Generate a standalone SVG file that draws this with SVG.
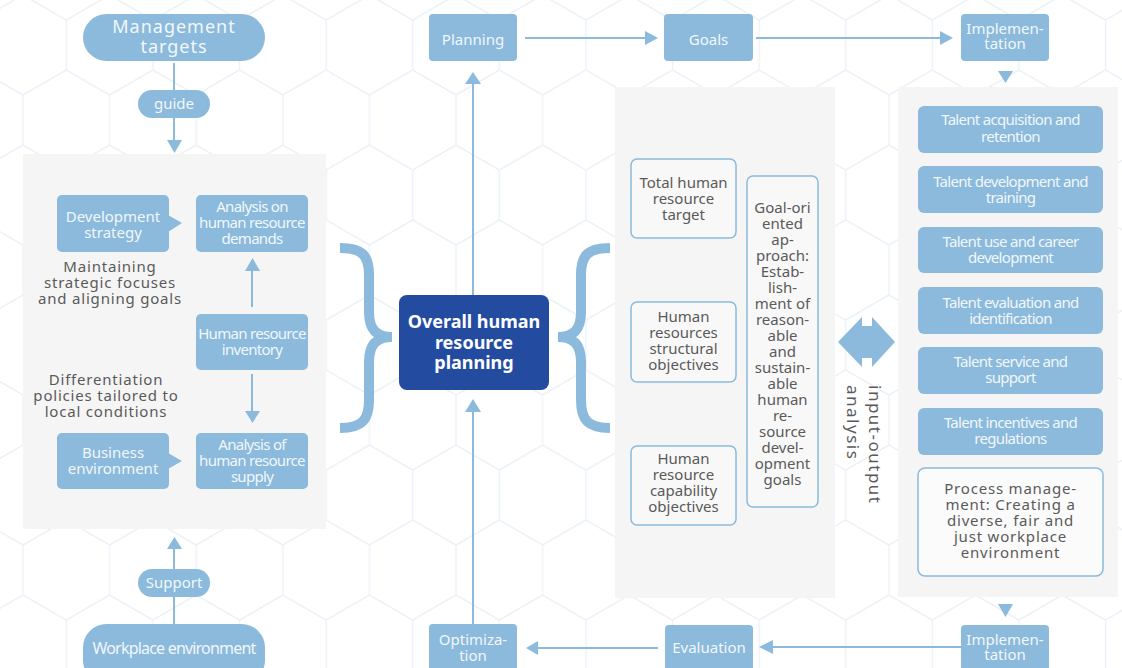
<svg xmlns="http://www.w3.org/2000/svg" width="1122" height="668" viewBox="0 0 1122 668">
<defs>
<pattern id="hex" patternUnits="userSpaceOnUse" x="109.6" y="45" width="86.6" height="150">
<g fill="none" stroke="#ebf1f7" stroke-width="1.2">
<path id="hx" d="M0,-50 L43.3,-25 L43.3,25 L0,50 L-43.3,25 L-43.3,-25 Z"/>
<use href="#hx" x="86.6" y="0"/>
<use href="#hx" x="43.3" y="75"/>
<use href="#hx" x="0" y="150"/>
<use href="#hx" x="86.6" y="150"/>
<use href="#hx" x="43.3" y="-75"/>
<use href="#hx" x="43.3" y="225"/>
</g>
</pattern>
<style>
.box{fill:#8bbadc}
.panel{fill:#f5f5f5}
.obox{fill:#f8f8f8;stroke:#8bbadc;stroke-width:1.5}
.wt{font-family:"Noto Sans","Open Sans",sans-serif;font-size:15px;fill:#f2f7fb;text-anchor:middle}
.cond{letter-spacing:-0.7px}
.gt{font-family:"Noto Sans","Open Sans",sans-serif;font-size:15px;fill:#5a5a5a;text-anchor:middle}
.ln{stroke:#8bbadc;stroke-width:2;fill:none}
.ah{fill:#8bbadc}
.brace{stroke:#8bbadc;stroke-width:10;fill:none}
</style>
</defs>
<rect width="1122" height="668" fill="#ffffff"/>
<rect width="1122" height="668" fill="url(#hex)"/>

<!-- panels -->
<rect class="panel" x="23" y="154" width="303" height="375"/>
<rect class="panel" x="615" y="87" width="220" height="511"/>
<rect class="panel" x="898" y="87" width="220" height="510"/>

<!-- connectors -->
<g id="connectors">
<line class="ln" x1="174" y1="63" x2="174" y2="142"/>
<polygon class="ah" points="167,140 182,140 174.5,153"/>
<line class="ln" x1="174" y1="624" x2="174" y2="547"/>
<polygon class="ah" points="167,549 182,549 174.5,537"/>
<line class="ln" x1="252" y1="307" x2="252" y2="270"/>
<polygon class="ah" points="245,271 260,271 252.5,258"/>
<line class="ln" x1="252" y1="374" x2="252" y2="412"/>
<polygon class="ah" points="245,411 260,411 252.5,423"/>
<line class="ln" x1="473" y1="295" x2="473" y2="83"/>
<polygon class="ah" points="465,84 481,84 473,72"/>
<line class="ln" x1="473" y1="624" x2="473" y2="411"/>
<polygon class="ah" points="465,412 481,412 473,399"/>
<line class="ln" x1="525" y1="38" x2="646" y2="38"/>
<polygon class="ah" points="645,31 645,45 658,38"/>
<line class="ln" x1="756" y1="38" x2="941" y2="38"/>
<polygon class="ah" points="940,31 940,45 953,38"/>
<polygon class="ah" points="998,71 1013,71 1005.5,83"/>
<polygon class="ah" points="998,604 1013,604 1005.5,617"/>
<line class="ln" x1="961" y1="647" x2="772" y2="647"/>
<polygon class="ah" points="773,640 773,654 759,647"/>
<line class="ln" x1="658" y1="648" x2="537" y2="648"/>
<polygon class="ah" points="538,641 538,655 526,648"/>
<path class="brace" d="M340,248 C362,248 369,255 369,275 L369,312 C369,330 377,337 392,337 C377,337 369,344 369,362 L369,400 C369,420 362,428 340,428"/>
<path class="brace" d="M610,248 C588,248 581,255 581,275 L581,312 C581,330 573,337 558,337 C573,337 581,344 581,362 L581,400 C581,420 588,428 610,428"/>
<polygon class="ah" points="838,342 862,317 862,326 872,326 872,317 895,342 872,367 872,358 862,358 862,367"/>
</g>

<g id="n-management"><rect class="box" x="83" y="14" width="182" height="47" rx="23.5"/>
<text class="wt" x="174" y="33" style="font-size:18px;letter-spacing:1px">Management</text>
<text class="wt" x="174" y="53" style="font-size:18px;letter-spacing:1px">targets</text></g>
<g id="n-guide"><rect class="box" x="138" y="90" width="72" height="28" rx="14"/>
<text class="wt" x="174" y="109">guide</text></g>
<g id="n-support"><rect class="box" x="138" y="569" width="72" height="28" rx="14"/>
<text class="wt" x="174" y="588">Support</text></g>
<g id="n-workplace"><rect class="box" x="83" y="624" width="182" height="60" rx="23.5"/>
<text class="wt" x="174" y="654" style="font-size:16px;letter-spacing:-0.8px">Workplace environment</text></g>

<g id="n-devstrategy"><rect class="box" x="57" y="195" width="112" height="57" rx="5"/>
<polygon class="box" points="168,215 182,223 168,232"/>
<text class="wt" x="113" y="222">Development</text>
<text class="wt" x="113" y="238">strategy</text></g>
<g id="n-demands"><rect class="box" x="196" y="195" width="112" height="57" rx="5"/>
<text class="wt cond" x="252" y="212">Analysis on</text>
<text class="wt cond" x="252" y="228">human resource</text>
<text class="wt cond" x="252" y="244">demands</text></g>
<g id="n-inventory"><rect class="box" x="196" y="314" width="112" height="56" rx="5"/>
<text class="wt cond" x="252" y="339">Human resource</text>
<text class="wt cond" x="252" y="355">inventory</text></g>
<g id="n-supply"><rect class="box" x="196" y="433" width="112" height="56" rx="5"/>
<text class="wt cond" x="252" y="450">Analysis of</text>
<text class="wt cond" x="252" y="466">human resource</text>
<text class="wt cond" x="252" y="482">supply</text></g>
<g id="n-business"><rect class="box" x="57" y="433" width="112" height="56" rx="5"/>
<polygon class="box" points="168,453 182,461 168,469"/>
<text class="wt" x="113" y="458">Business</text>
<text class="wt" x="113" y="474">environment</text></g>
<g id="t-maintaining">
<text class="gt" x="110" y="272" style="letter-spacing:0.8px">Maintaining</text>
<text class="gt" x="110" y="288" style="letter-spacing:0.8px">strategic focuses</text>
<text class="gt" x="110" y="304" style="letter-spacing:0.8px">and aligning goals</text></g>
<g id="t-differentiation">
<text class="gt" x="106" y="385" style="letter-spacing:0.8px">Differentiation</text>
<text class="gt" x="106" y="401" style="letter-spacing:0.8px">policies tailored to</text>
<text class="gt" x="106" y="417" style="letter-spacing:0.8px">local conditions</text></g>

<g id="n-central"><rect x="399" y="295" width="150" height="95" rx="8" fill="#234ca1"/>
<text class="wt" x="474" y="328" style="font-size:18px;font-weight:bold;fill:#ffffff">Overall human</text>
<text class="wt" x="474" y="349" style="font-size:18px;font-weight:bold;fill:#ffffff">resource</text>
<text class="wt" x="474" y="369" style="font-size:18px;font-weight:bold;fill:#ffffff">planning</text></g>

<g id="n-planning"><rect class="box" x="429" y="14" width="88" height="47" rx="4"/>
<text class="wt" x="473" y="45">Planning</text></g>
<g id="n-goals"><rect class="box" x="664" y="14" width="89" height="47" rx="4"/>
<text class="wt" x="708.5" y="45">Goals</text></g>
<g id="n-impl-top"><rect class="box" x="961" y="14" width="88" height="47" rx="4"/>
<text class="wt" x="1005" y="34">Implemen-</text>
<text class="wt" x="1005" y="49">tation</text></g>
<g id="n-impl-bottom"><rect class="box" x="961" y="625" width="88" height="60" rx="4"/>
<text class="wt" x="1005" y="645">Implemen-</text>
<text class="wt" x="1005" y="660">tation</text></g>
<g id="n-evaluation"><rect class="box" x="665" y="625" width="88" height="60" rx="4"/>
<text class="wt" x="709" y="653">Evaluation</text></g>
<g id="n-optimization"><rect class="box" x="429" y="624" width="88" height="60" rx="4"/>
<text class="wt" x="473" y="645">Optimiza-</text>
<text class="wt" x="473" y="661">tion</text></g>

<g id="n-total"><rect class="obox" x="631" y="159" width="105" height="79" rx="6"/>
<text class="gt" x="683.5" y="188">Total human</text>
<text class="gt" x="683.5" y="204">resource</text>
<text class="gt" x="683.5" y="220">target</text></g>
<g id="n-structural"><rect class="obox" x="631" y="302" width="105" height="80" rx="6"/>
<text class="gt" x="683.5" y="322">Human</text>
<text class="gt" x="683.5" y="338">resources</text>
<text class="gt" x="683.5" y="354">structural</text>
<text class="gt" x="683.5" y="370">objectives</text></g>
<g id="n-capability"><rect class="obox" x="631" y="446" width="105" height="79" rx="6"/>
<text class="gt" x="683.5" y="464">Human</text>
<text class="gt" x="683.5" y="480">resource</text>
<text class="gt" x="683.5" y="496">capability</text>
<text class="gt" x="683.5" y="512">objectives</text></g>
<g id="n-goaloriented"><rect class="obox" x="747" y="176" width="71" height="331" rx="6"/>
<text class="gt" x="782.5" y="213">Goal-ori</text>
<text class="gt" x="782.5" y="229">ented</text>
<text class="gt" x="782.5" y="245">ap-</text>
<text class="gt" x="782.5" y="261">proach:</text>
<text class="gt" x="782.5" y="277">Estab-</text>
<text class="gt" x="782.5" y="293">lish-</text>
<text class="gt" x="782.5" y="309">ment of</text>
<text class="gt" x="782.5" y="325">reason-</text>
<text class="gt" x="782.5" y="341">able</text>
<text class="gt" x="782.5" y="357">and</text>
<text class="gt" x="782.5" y="373">sustain-</text>
<text class="gt" x="782.5" y="389">able</text>
<text class="gt" x="782.5" y="405">human</text>
<text class="gt" x="782.5" y="421">re-</text>
<text class="gt" x="782.5" y="437">source</text>
<text class="gt" x="782.5" y="453">devel-</text>
<text class="gt" x="782.5" y="469">opment</text>
<text class="gt" x="782.5" y="485">goals</text></g>
<g id="t-inputoutput">
<text class="gt" transform="translate(869,385) rotate(90)" style="text-anchor:start;font-size:17px;letter-spacing:1.5px">input-output</text>
<text class="gt" transform="translate(847,385) rotate(90)" style="text-anchor:start;font-size:17px;letter-spacing:1.5px">analysis</text></g>

<g id="n-t1"><rect class="box" x="918" y="106" width="185" height="47" rx="6"/>
<text class="wt cond" x="1010.5" y="125">Talent acquisition and</text>
<text class="wt cond" x="1010.5" y="142">retention</text></g>
<g id="n-t2"><rect class="box" x="918" y="166" width="185" height="47" rx="6"/>
<text class="wt cond" x="1010.5" y="187">Talent development and</text>
<text class="wt cond" x="1010.5" y="203">training</text></g>
<g id="n-t3"><rect class="box" x="918" y="227" width="185" height="46" rx="6"/>
<text class="wt cond" x="1010.5" y="247">Talent use and career</text>
<text class="wt cond" x="1010.5" y="263">development</text></g>
<g id="n-t4"><rect class="box" x="918" y="287" width="185" height="47" rx="6"/>
<text class="wt cond" x="1010.5" y="308">Talent evaluation and</text>
<text class="wt cond" x="1010.5" y="324">identification</text></g>
<g id="n-t5"><rect class="box" x="918" y="347" width="185" height="47" rx="6"/>
<text class="wt cond" x="1010.5" y="367">Talent service and</text>
<text class="wt cond" x="1010.5" y="383">support</text></g>
<g id="n-t6"><rect class="box" x="918" y="408" width="185" height="47" rx="6"/>
<text class="wt cond" x="1010.5" y="428">Talent incentives and</text>
<text class="wt cond" x="1010.5" y="444">regulations</text></g>
<g id="n-process"><rect class="obox" x="918" y="468" width="185" height="108" rx="7" style="fill:#fbfbfb"/>
<text class="gt" x="1010.5" y="494" style="letter-spacing:0.8px">Process manage-</text>
<text class="gt" x="1010.5" y="510" style="letter-spacing:0.8px">ment: Creating a</text>
<text class="gt" x="1010.5" y="526" style="letter-spacing:0.8px">diverse, fair and</text>
<text class="gt" x="1010.5" y="542" style="letter-spacing:0.8px">just workplace</text>
<text class="gt" x="1010.5" y="558" style="letter-spacing:0.8px">environment</text></g>
</svg>
